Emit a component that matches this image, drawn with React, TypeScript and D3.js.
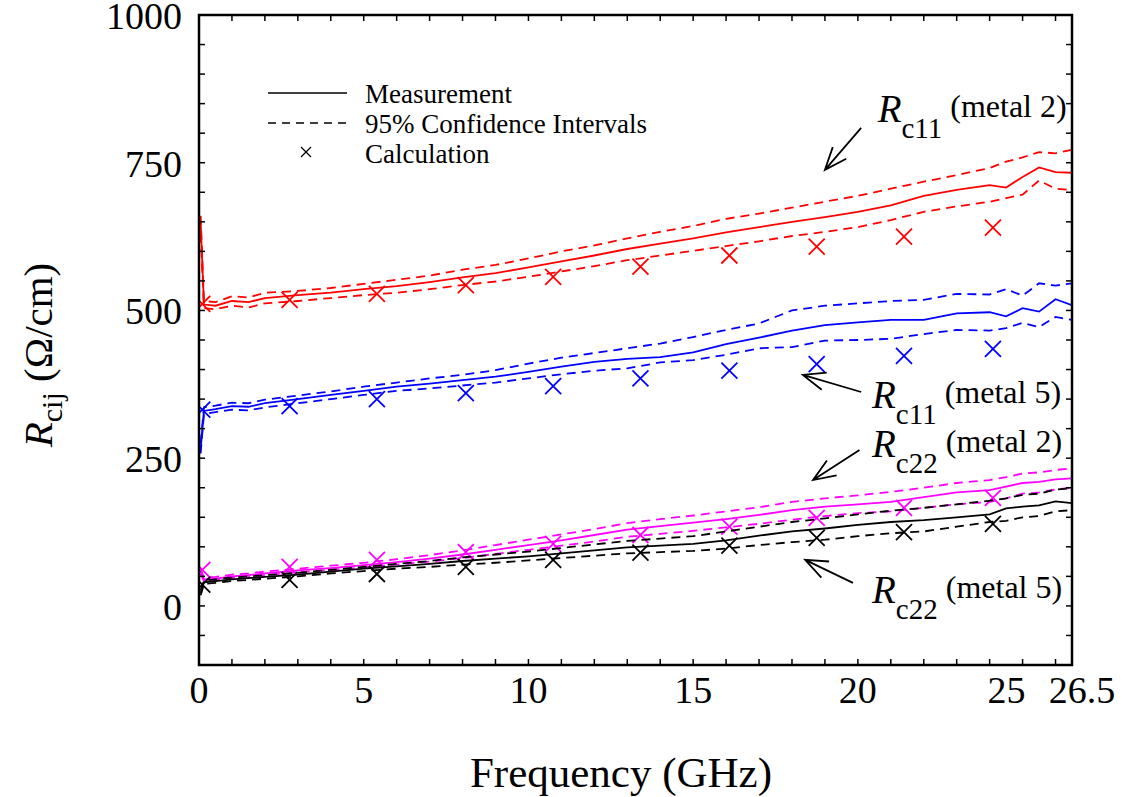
import React from 'react';
import * as d3 from 'd3';

// measurement frequencies (GHz)
const freq = [0.05, 0.15, 0.5, 1, 1.5, 2, 3, 4, 5, 6, 7, 8, 9, 10, 11, 12, 13, 14, 15, 16, 17, 18, 19, 20, 21, 22, 23, 24, 24.5, 25, 25.5, 26, 26.5];
// calculation frequencies (GHz)
const calcFreq = [0.1, 2.75, 5.4, 8.1, 10.75, 13.4, 16.1, 18.75, 21.4, 24.1];

// Rc11 (metal 2) - red
const rc11m2Meas = [650, 510, 508, 516, 514, 521, 526, 530, 536, 541, 548, 556, 563, 573, 583, 593, 604, 613, 622, 632, 641, 650, 658, 667, 678, 694, 704, 712, 708, 726, 742, 734, 733];
const rc11m2Upper = [660, 516, 514, 524, 522, 530, 533, 538, 545, 552, 559, 569, 577, 588, 600, 610, 622, 633, 643, 655, 664, 674, 684, 694, 706, 718, 729, 741, 752, 759, 768, 766, 772];
const rc11m2Lower = [630, 504, 502, 508, 505, 512, 516, 521, 526, 530, 536, 543, 549, 557, 566, 575, 585, 593, 601, 609, 617, 626, 633, 641, 653, 667, 676, 684, 690, 696, 720, 706, 704];
const rc11m2Calc = [511, 518, 528, 543, 557, 574, 593, 608, 625, 640];

// Rc11 (metal 5) - blue
const rc11m5Meas = [265, 330, 333, 338, 337, 343, 350, 357, 364, 371, 376, 382, 388, 396, 405, 413, 418, 421, 429, 443, 454, 466, 475, 480, 484, 484, 495, 497, 490, 504, 498, 519, 509];
const rc11m5Upper = [275, 336, 339, 344, 343, 349, 356, 363, 371, 378, 385, 391, 399, 410, 420, 428, 436, 444, 455, 467, 478, 500, 508, 512, 516, 518, 528, 527, 536, 525, 546, 542, 546];
const rc11m5Lower = [258, 325, 328, 332, 331, 336, 343, 350, 357, 364, 368, 373, 378, 385, 392, 398, 402, 412, 416, 425, 436, 438, 449, 450, 452, 460, 467, 466, 470, 479, 472, 489, 484];
const rc11m5Calc = [332, 338, 350, 360, 372, 385, 398, 409, 423, 435];

// Rc22 (metal 2) - magenta
const rc22m2Meas = [58, 45, 46, 50, 52, 55, 60, 64, 69, 74, 80, 87, 95, 103, 111, 120, 129, 135, 141, 147, 154, 162, 168, 172, 176, 184, 192, 196, 202, 208, 210, 214, 216];
const rc22m2Upper = [62, 48, 49, 53, 55, 58, 63, 68, 73, 79, 86, 94, 103, 112, 121, 130, 140, 147, 153, 160, 167, 176, 182, 187, 193, 200, 208, 213, 218, 224, 226, 230, 233];
const rc22m2Lower = [54, 42, 43, 47, 49, 52, 57, 61, 65, 70, 75, 81, 88, 95, 102, 109, 117, 122, 127, 133, 139, 146, 152, 157, 160, 166, 172, 176, 182, 190, 192, 197, 200];
const rc22m2Calc = [61, 66, 78, 91, 105, 120, 134, 149, 166, 183];

// Rc22 (metal 5) - black
const rc22m5Meas = [22, 40, 42, 45, 47, 49, 53, 58, 63, 67, 71, 76, 80, 84, 89, 94, 99, 102, 105, 111, 119, 126, 131, 137, 142, 145, 150, 155, 165, 168, 170, 177, 174];
const rc22m5Upper = [26, 43, 45, 48, 50, 52, 56, 61, 66, 71, 76, 82, 87, 92, 98, 104, 110, 114, 118, 126, 134, 142, 148, 155, 161, 166, 172, 178, 182, 188, 190, 197, 199];
const rc22m5Lower = [18, 37, 39, 42, 44, 46, 50, 55, 59, 63, 66, 70, 73, 77, 81, 85, 89, 91, 93, 97, 103, 108, 112, 118, 123, 126, 134, 142, 144, 150, 152, 160, 162];
const rc22m5Calc = [36, 44, 54, 66, 78, 90, 102, 115, 125, 139];

const xTickLabels = [0, 5, 10, 15, 20, 25, 26.5];
const yTickLabels = [0, 250, 500, 750, 1000];

const series = [
  { color: '#ff0000', meas: rc11m2Meas, upper: rc11m2Upper, lower: rc11m2Lower, calc: rc11m2Calc },
  { color: '#0000ff', meas: rc11m5Meas, upper: rc11m5Upper, lower: rc11m5Lower, calc: rc11m5Calc },
  { color: '#ff00ff', meas: rc22m2Meas, upper: rc22m2Upper, lower: rc22m2Lower, calc: rc22m2Calc },
  { color: '#000000', meas: rc22m5Meas, upper: rc22m5Upper, lower: rc22m5Lower, calc: rc22m5Calc },
];

// annotations in data units: arrow tail, arrow tip, label anchor
const annotations = [
  { sub: 'c11', metal: '(metal 2)', tail: [20.1, 809], tip: [19.0, 738], at: [20.6, 819] },
  { sub: 'c11', metal: '(metal 5)', tail: [20.1, 362], tip: [18.33, 391], at: [20.43, 335] },
  { sub: 'c22', metal: '(metal 2)', tail: [20.05, 264], tip: [18.64, 213], at: [20.43, 252] },
  { sub: 'c22', metal: '(metal 5)', tail: [19.85, 39], tip: [18.4, 78], at: [20.43, 5] },
];

const font = '"Liberation Serif", "Times New Roman", serif';

const App = () => {
  const left = 199, right = 1072, top = 15, bottom = 665;
  const x = d3.scaleLinear().domain([0, 26.5]).range([left, right]);
  const y = d3.scaleLinear().domain([-100, 1000]).range([bottom, top]);
  const line = d3.line<number>().x((_, i) => x(freq[i])).y(d => y(d));

  const cross = (cx: number, cy: number, s: number) =>
    `M${cx - s},${cy - s}L${cx + s},${cy + s}M${cx - s},${cy + s}L${cx + s},${cy - s}`;

  const arrow = (tail: number[], tip: number[]) => {
    const tx = x(tail[0]), ty = y(tail[1]);
    const hx = x(tip[0]), hy = y(tip[1]);
    const a = Math.atan2(ty - hy, tx - hx);
    const len = 24, spread = 0.38;
    const p1 = [hx + len * Math.cos(a - spread), hy + len * Math.sin(a - spread)];
    const p2 = [hx + len * Math.cos(a + spread), hy + len * Math.sin(a + spread)];
    return `M${tx},${ty}L${hx},${hy}M${p1[0]},${p1[1]}L${hx},${hy}L${p2[0]},${p2[1]}`;
  };

  const xMinor = d3.range(0, 27);
  const yMinor = d3.range(-100, 1001, 50);

  // the last two x labels sit close together, as in the original
  const xLabelPos = (t: number) => (t === 25 ? x(t) + 3 : t === 26.5 ? x(t) + 10 : x(t));
  const xLabelAnchor = (t: number) => (t === 25 ? 'end' : 'middle');

  return (
    <svg width={1126} height={797} style={{ position: 'absolute', left: 0, top: 0, background: '#fff' }} fontFamily={font}>
      <defs>
        <clipPath id="plot">
          <rect x={left} y={top} width={right - left} height={bottom - top} />
        </clipPath>
      </defs>

      <g clipPath="url(#plot)">
        {series.map((s, k) => (
          <g key={k} fill="none" stroke={s.color} strokeWidth={1.8}>
            <path d={line(s.upper) || ''} strokeDasharray="9,6" />
            <path d={line(s.lower) || ''} strokeDasharray="9,6" />
            <path d={line(s.meas) || ''} />
            {s.calc.map((v, i) => (
              <path key={i} d={cross(x(calcFreq[i]), y(v), 8)} />
            ))}
          </g>
        ))}
      </g>

      {/* ticks */}
      <g stroke="#000" strokeWidth={1.5}>
        {xMinor.map(t => (
          <g key={'x' + t}>
            <line x1={x(t)} x2={x(t)} y1={bottom} y2={bottom - 6} />
            <line x1={x(t)} x2={x(t)} y1={top} y2={top + 6} />
          </g>
        ))}
        {yMinor.map(t => (
          <g key={'y' + t}>
            <line x1={left} x2={left + 6} y1={y(t)} y2={y(t)} />
            <line x1={right} x2={right - 6} y1={y(t)} y2={y(t)} />
          </g>
        ))}
      </g>
      <rect x={left} y={top} width={right - left} height={bottom - top} fill="none" stroke="#000" strokeWidth={2.5} />

      {/* tick labels */}
      <g fontSize={38} fill="#000">
        {xTickLabels.map(t => (
          <text key={t} x={xLabelPos(t)} y={bottom + 38} textAnchor={xLabelAnchor(t)}>{t}</text>
        ))}
        {yTickLabels.map(t => (
          <text key={t} x={left - 17} y={y(t) + 14} textAnchor="end">{t}</text>
        ))}
      </g>

      {/* axis titles */}
      <text x={621} y={787} fontSize={43} textAnchor="middle">Frequency (GHz)</text>
      <text transform={`translate(52,355) rotate(-90)`} fontSize={41} textAnchor="middle">
        <tspan fontStyle="italic">R</tspan>
        <tspan fontSize={30} dy={10}>cij</tspan>
        <tspan dy={-10}> (Ω/cm)</tspan>
      </text>

      {/* legend */}
      <g stroke="#000" strokeWidth={1.6} fill="none">
        <line x1={268} x2={347} y1={93} y2={93} />
        <line x1={268} x2={347} y1={123} y2={123} strokeDasharray="8,6" />
        <path d={cross(306, 152, 5)} strokeWidth={1.3} />
      </g>
      <g fontSize={27}>
        <text x={365} y={103}>Measurement</text>
        <text x={365} y={133}>95% Confidence Intervals</text>
        <text x={365} y={163}>Calculation</text>
      </g>

      {/* annotations */}
      {annotations.map((a, i) => (
        <g key={i}>
          <path d={arrow(a.tail, a.tip)} stroke="#000" strokeWidth={1.8} fill="none" />
          <text x={x(a.at[0])} y={y(a.at[1])} fontSize={39}>
            <tspan fontStyle="italic">R</tspan>
            <tspan fontSize={29} dy={16}>{a.sub}</tspan>
            <tspan fontSize={32} dy={-21} dx={8}>{a.metal}</tspan>
          </text>
        </g>
      ))}
    </svg>
  );
};

export default App;
